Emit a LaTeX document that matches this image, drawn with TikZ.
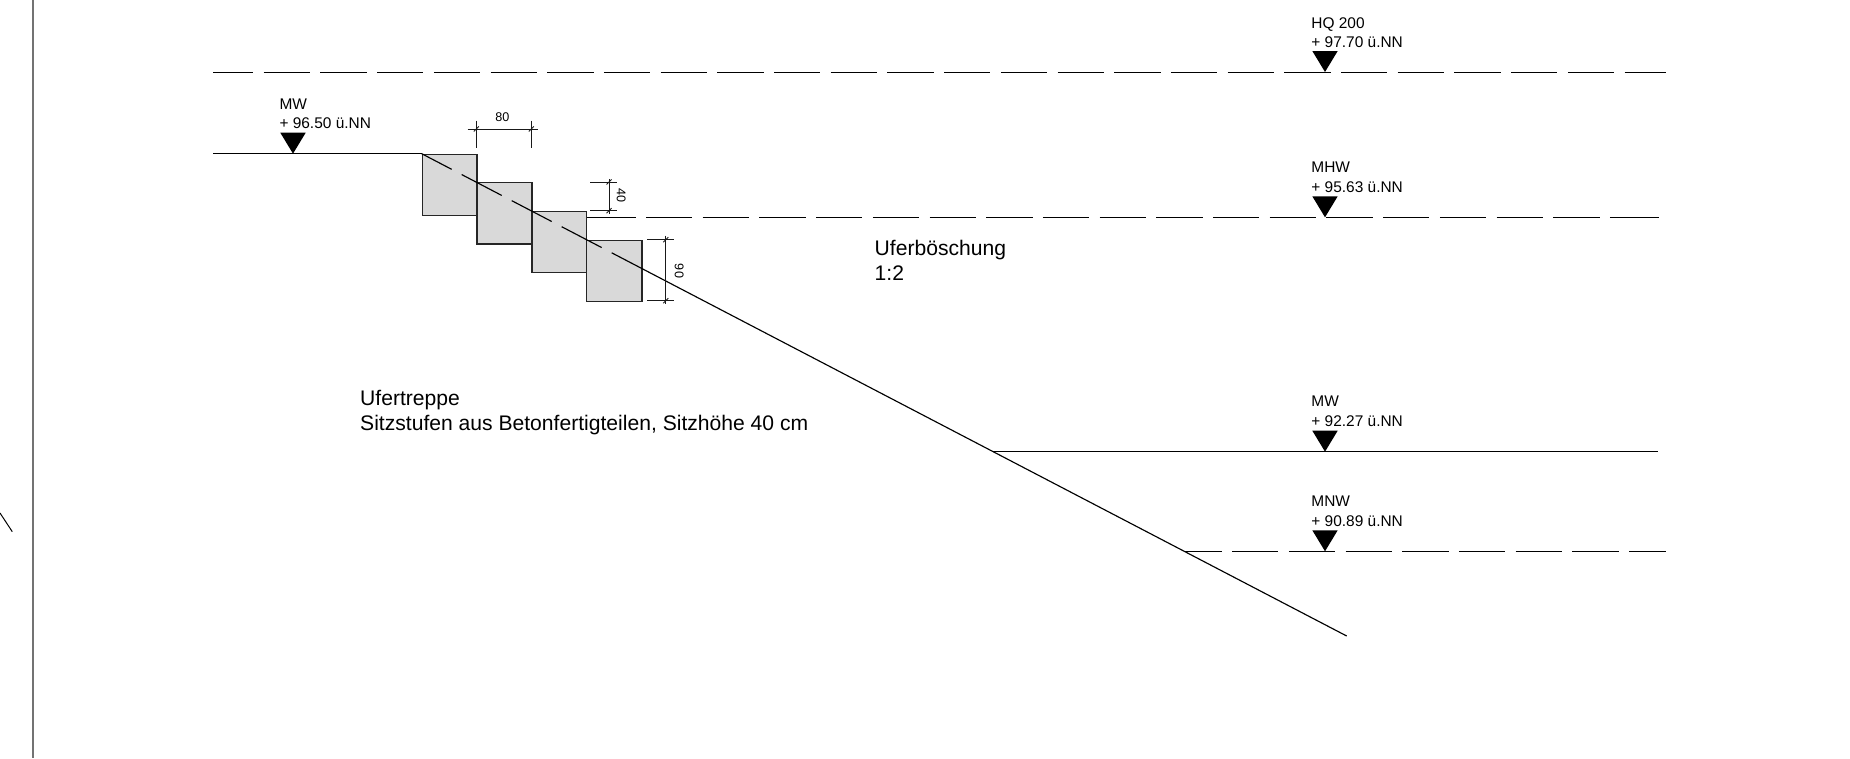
\documentclass[tikz,border=0pt]{standalone}
\usepackage{fontspec}
\setmainfont{Liberation Sans}
\tikzset{
  x=1pt,y=-1pt,
  wl/.style={line width=1.15pt,black},
  wdash/.style={wl,dash pattern=on 46.3pt off 10.4pt},
  slopedash/.style={wl,dash pattern=on 45.1pt off 11.3pt,dash phase=11.3pt},
  stepbox/.style={draw=black!85,fill=black!15,line width=1.2pt},
  dimline/.style={line width=0.9pt,black!90},
  wmark/.style={fill=black,draw=none},
  lvl/.style={anchor=base west,inner sep=0pt,align=left,font=\fontsize{15.45pt}{19.2pt}\selectfont},
  note/.style={anchor=base west,inner sep=0pt,align=left,font=\fontsize{21.1pt}{25.7pt}\selectfont},
  dimtxt/.style={inner sep=0pt,font=\fontsize{12.6pt}{14pt}\selectfont},
  frameline/.style={line width=1.6pt,black!55}
}
\newcommand{\wmarker}[2]{\fill[wmark] (#1-12.7,#2-21) -- (#1+12.7,#2-21) -- (#1,#2) -- cycle;}
\newcommand{\tickmark}[2]{\draw[dimline] (#1-2.5,#2+2.5) -- (#1+2.5,#2-2.5);}
\begin{document}
\begin{tikzpicture}
\useasboundingbox (0,0) rectangle (1850,758);
% frame and stray tick
\coordinate (frameT) at (33,0); \coordinate (frameB) at (33,758);
\draw[frameline] (frameT) -- (frameB);
\coordinate (strayA) at (0,513); \coordinate (strayB) at (12.3,531.7);
\draw[line width=1pt] (strayA) -- (strayB);
% steps
\node[stepbox,minimum width=54.6pt,minimum height=61.3pt,inner sep=0pt,anchor=north west] (s1) at (421.7,153.7) {};
\node[stepbox,minimum width=55pt,minimum height=61.3pt,inner sep=0pt,anchor=north west] (s2) at (476.3,182) {};
\node[stepbox,minimum width=54.7pt,minimum height=61.3pt,inner sep=0pt,anchor=north west] (s3) at (531.3,210.7) {};
\node[stepbox,minimum width=55.3pt,minimum height=61pt,inner sep=0pt,anchor=north west] (s4) at (586,239.7) {};
% slope
\coordinate (slopeA) at (421.7,153.7);
\coordinate (slopeB) at (611.7,252.8);
\coordinate (slopeC) at (1346.7,636);
\draw[slopedash] (slopeA) -- (slopeB);
\draw[wl] (slopeB) -- (slopeC);
% water levels
\coordinate (topA) at (213.3,153.7); 
\draw[wl] (topA) -- (s1.north west);
\coordinate (hqA) at (213.3,72.4); \coordinate (hqB) at (1665.7,72.4);
\draw[wdash,dash phase=6.3pt] (hqA) -- (hqB);
\coordinate (mhwA) at (586.5,217.5); \coordinate (mhwA1) at (589.3,217.5);
\coordinate (mhwB) at (1656,217.5); \coordinate (mhwB1) at (1659.3,217.5);
\draw[wl] (mhwA) -- (mhwA1);
\draw[wdash] (mhwA1) -- (mhwB);
\draw[wl] (mhwB) -- (mhwB1);
\coordinate (mwA) at (993.3,451.5); \coordinate (mwB) at (1657.7,451.5);
\draw[wl] (mwA) -- (mwB);
\coordinate (mnwA) at (1185,551.5); \coordinate (mnwB) at (1665.7,551.5);
\draw[wdash,dash phase=9.6pt] (mnwA) -- (mnwB);
% markers
\wmarker{293}{153.7}
\wmarker{1325}{72}
\wmarker{1325}{217.3}
\wmarker{1325}{451.7}
\wmarker{1325}{551.3}
% labels
\node[lvl] (lMW1) at (279.3,128.3) {MW\\+ 96.50 ü.NN};
\node[lvl] (lHQ) at (1311.2,47.3) {HQ 200\\+ 97.70 ü.NN};
\node[lvl] (lMHW) at (1311.2,192) {MHW\\+ 95.63 ü.NN};
\node[lvl] (lMW2) at (1311.2,426) {MW\\+ 92.27 ü.NN};
\node[lvl] (lMNW) at (1311.2,526) {MNW\\+ 90.89 ü.NN};
\node[note] (lUB) at (874.5,280.7) {Uferböschung\\1:2};
\node[note] (lUT) at (360,430.7) {Ufertreppe\\Sitzstufen aus Betonfertigteilen, Sitzhöhe 40 cm};
% dimension 80
\coordinate (d80L) at (467.7,129); \coordinate (d80R) at (538,129);
\draw[dimline] (d80L) -- (d80R);
\draw[dimline] (476.3,120.7) -- (476.3,147.7);
\draw[dimline] (531.3,120.7) -- (531.3,147.7);
\tickmark{476.3}{129}
\tickmark{531.3}{129}
\node[dimtxt] (t80) at (502.3,116.7) {80};
% dimension 40
\coordinate (d40T) at (609,179); \coordinate (d40B) at (609,214);
\draw[dimline] (d40T) -- (d40B);
\draw[dimline] (590,182) -- (616.7,182);
\draw[dimline] (590,210.7) -- (616.7,210.7);
\tickmark{609}{182}
\tickmark{609}{210.7}
\node[dimtxt,rotate=-90] (t40) at (621.2,195.7) {40};
% dimension 90
\coordinate (d90T) at (665.7,235.7); \coordinate (d90B) at (665.7,304);
\draw[dimline] (d90T) -- (d90B);
\draw[dimline] (647,239.7) -- (674,239.7);
\draw[dimline] (647,300.7) -- (674,300.7);
\tickmark{665.7}{239.7}
\tickmark{665.7}{300.7}
\node[dimtxt,rotate=-90] (t90) at (679.3,271) {90};
\end{tikzpicture}
\end{document}
